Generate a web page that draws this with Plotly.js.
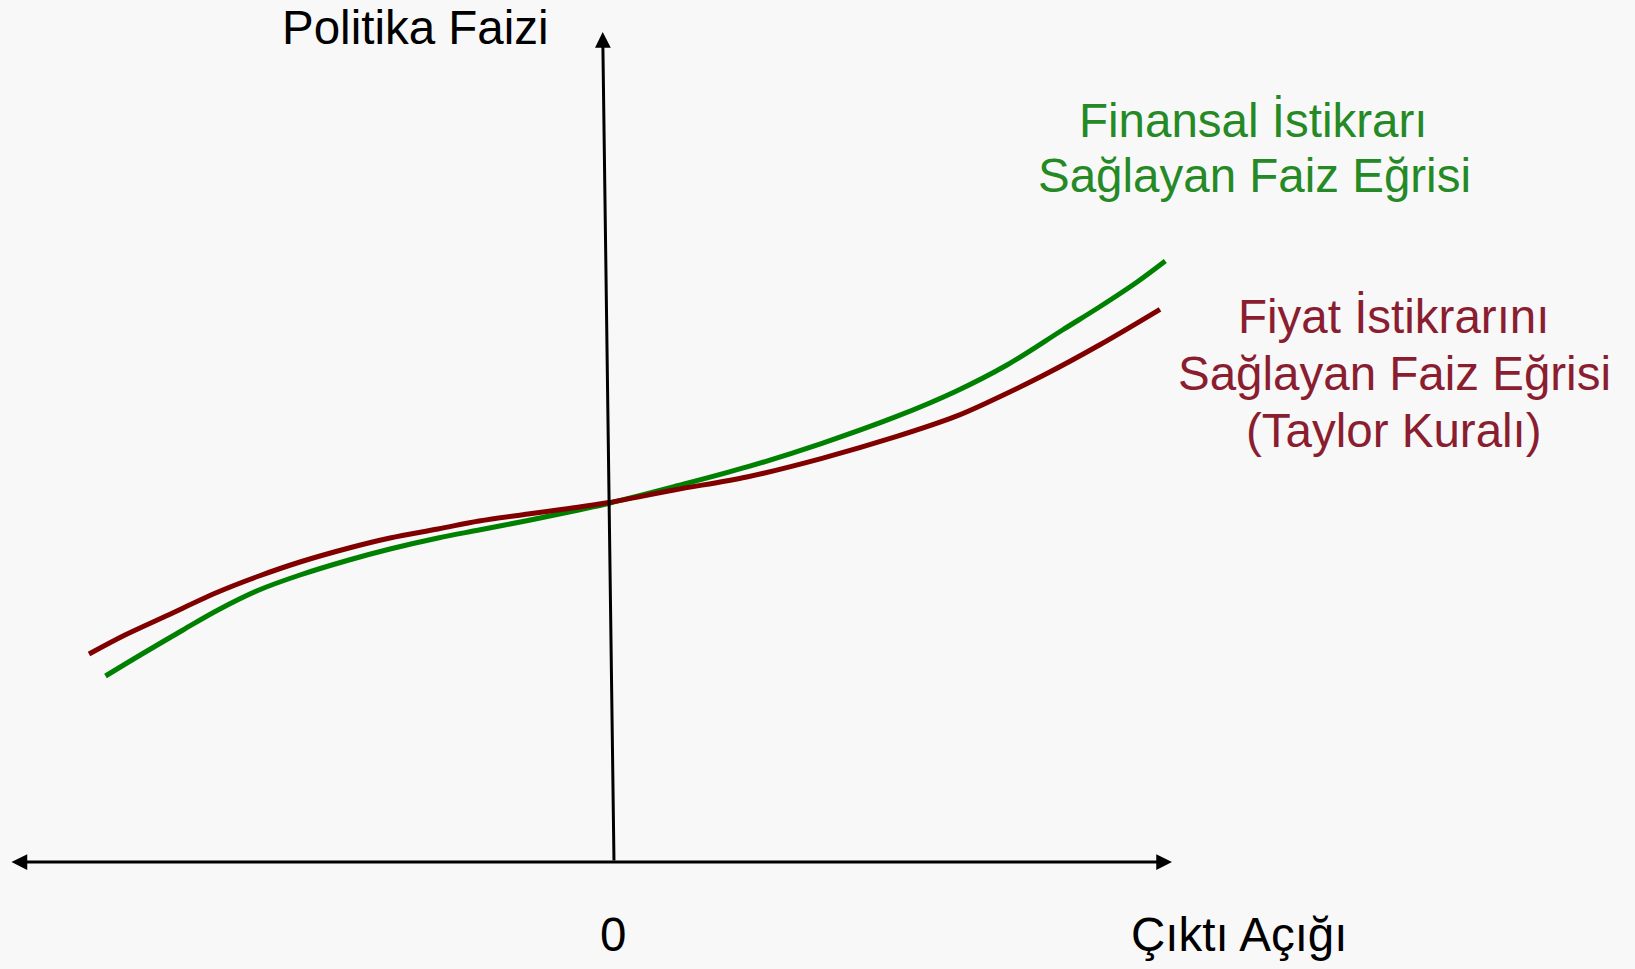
<!DOCTYPE html>
<html>
<head>
<meta charset="utf-8">
<script src="https://cdn.plot.ly/plotly-3.0.1.min.js"></script>
<style>
  html, body { margin: 0; padding: 0; background: #f8f8f8; }
  #chart { width: 1635px; height: 969px; }
</style>
</head>
<body>
<div id="chart"></div>
<script>
// ---- Data ----
// Price-stability rate curve (Taylor rule): output gap -> policy rate
const taylorGap  = [-5.21, -4.85, -4.44, -3.92, -3.51, -3.10, -2.61, -2.20, -1.72, -1.31, -0.82, -0.41, -0.01, 0.64, 1.38, 2.12, 2.86, 3.45, 3.785, 4.34, 4.894, 5.50];
const taylorRate = [2.08, 2.27, 2.46, 2.70, 2.86, 3.00, 3.14, 3.24, 3.33, 3.41, 3.48, 3.535, 3.595, 3.72, 3.853, 4.037, 4.253, 4.453, 4.60, 4.87, 5.17, 5.527];

// Financial-stability rate curve
const finGap  = [-5.045, -4.68, -4.27, -3.92, -3.51, -3.10, -2.61, -2.20, -1.72, -1.31, -0.82, -0.41, -0.02, 0.64, 1.38, 2.12, 2.86, 3.45, 3.97, 4.525, 4.894, 5.264, 5.553];
const finRate = [1.86, 2.08, 2.32, 2.52, 2.72, 2.87, 3.02, 3.13, 3.24, 3.32, 3.415, 3.50, 3.585, 3.753, 3.953, 4.187, 4.453, 4.703, 4.97, 5.32, 5.55, 5.795, 6.01];

// Axis extents (data units)
const gapAxisExtent  = [-6.00, 5.62];
const rateAxisBottom = [0.04, 0.0];
const rateAxisTop    = [-0.073, 8.30];

// Texts
const yAxisLabel = 'Politika Faizi';
const xAxisLabel = 'Çıktı Açığı';
const zeroLabel  = '0';
const finLabelLines    = ['Finansal İstikrarı', 'Sağlayan Faiz Eğrisi'];
const taylorLabelLines = ['Fiyat İstikrarını', 'Sağlayan Faiz Eğrisi', '(Taylor Kuralı)'];

// ---- Styles ----
const GREEN_LINE = '#008000';
const RED_LINE   = '#800000';
const GREEN_TEXT = '#258a25';
const RED_TEXT   = '#8a1e30';
const FONT = 'Liberation Sans, Arial, Helvetica, sans-serif';
const FS = 47.5;

const traces = [
  { x: finGap, y: finRate, mode: 'lines', line: { color: GREEN_LINE, width: 5, shape: 'spline', smoothing: 1 }, hoverinfo: 'skip' },
  { x: taylorGap, y: taylorRate, mode: 'lines', line: { color: RED_LINE, width: 5, shape: 'spline', smoothing: 1 }, hoverinfo: 'skip' }
];

function txt(text, x, y, color) {
  return { text: text, x: x, y: y, xref: 'x', yref: 'y', showarrow: false,
           xanchor: 'center', yanchor: 'middle', borderpad: 0,
           font: { family: FONT, size: FS, color: color } };
}

const annotations = [
  // horizontal (output gap) axis, double headed
  { x: gapAxisExtent[1], y: 0, ax: gapAxisExtent[0], ay: 0, xref: 'x', yref: 'y', axref: 'x', ayref: 'y',
    text: '', showarrow: true, arrowside: 'end+start', arrowhead: 2, startarrowhead: 2,
    arrowsize: 1.05, startarrowsize: 1.05, arrowwidth: 3, arrowcolor: '#000', standoff: 0, startstandoff: 0 },
  // vertical (policy rate) axis
  { x: rateAxisTop[0], y: rateAxisTop[1], ax: rateAxisBottom[0], ay: rateAxisBottom[1], xref: 'x', yref: 'y', axref: 'x', ayref: 'y',
    text: '', showarrow: true, arrowhead: 2, arrowsize: 1.05, arrowwidth: 3, arrowcolor: '#000', standoff: 0 },
  txt(yAxisLabel, -1.95, 8.35, '#000'),
  txt(zeroLabel, 0.03, -0.72, '#000'),
  txt(xAxisLabel, 6.29, -0.72, '#000'),
  txt(finLabelLines[0], 6.43, 7.42, GREEN_TEXT),
  txt(finLabelLines[1], 6.44, 6.87, GREEN_TEXT),
  txt(taylorLabelLines[0], 7.83, 5.455, RED_TEXT),
  txt(taylorLabelLines[1], 7.845, 4.89, RED_TEXT),
  txt(taylorLabelLines[2], 7.84, 4.32, RED_TEXT)
];

const layout = {
  width: 1635, height: 969,
  margin: { l: 0, r: 0, t: 0, b: 0, pad: 0 },
  paper_bgcolor: '#f8f8f8', plot_bgcolor: '#f8f8f8',
  showlegend: false,
  xaxis: { range: [-6.10, 10.25], visible: false, fixedrange: true },
  yaxis: { range: [-1.07, 8.62], visible: false, fixedrange: true },
  annotations: annotations
};

Plotly.newPlot('chart', traces, layout, { staticPlot: true, displayModeBar: false });
</script>
</body>
</html>
